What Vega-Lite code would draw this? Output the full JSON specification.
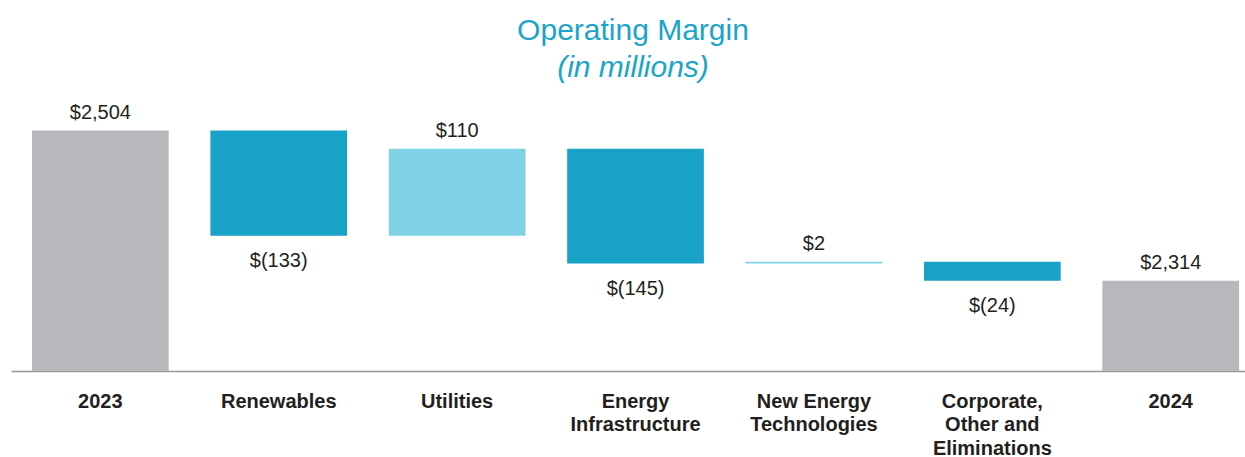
{
  "$schema": "https://vega.github.io/schema/vega-lite/v6.json",
  "autosize": {"type": "none"},
  "padding": {"left": 11, "top": 91, "right": 0, "bottom": 86},
  "width": 1234,
  "height": 280,
  "background": "white",
  "view": {"stroke": null},
  "title": {
    "text": "Operating Margin",
    "subtitle": "(in millions)",
    "font": "Liberation Sans",
    "subtitleFont": "Liberation Sans",
    "fontSize": 30,
    "subtitleFontSize": 30,
    "fontWeight": "normal",
    "subtitleFontStyle": "italic",
    "color": "#1ba4c9",
    "subtitleColor": "#1ba4c9",
    "anchor": "middle",
    "offset": 8,
    "subtitlePadding": 7,
    "dx": 5
  },
  "data": {
    "values": [
      {"category": "2023", "start": 2200, "end": 2504, "label": "$2,504", "kind": "total", "pos": "above"},
      {"category": "Renewables", "start": 2504, "end": 2371, "label": "$(133)", "kind": "decrease", "pos": "below"},
      {"category": "Utilities", "start": 2371, "end": 2481, "label": "$110", "kind": "increase", "pos": "above"},
      {"category": "Energy|Infrastructure", "start": 2481, "end": 2336, "label": "$(145)", "kind": "decrease", "pos": "below"},
      {"category": "New Energy|Technologies", "start": 2336, "end": 2338, "label": "$2", "kind": "increase", "pos": "above"},
      {"category": "Corporate,|Other and|Eliminations", "start": 2338, "end": 2314, "label": "$(24)", "kind": "decrease", "pos": "below"},
      {"category": "2024", "start": 2200, "end": 2314, "label": "$2,314", "kind": "total", "pos": "above"}
    ]
  },
  "encoding": {
    "x": {
      "field": "category",
      "type": "nominal",
      "sort": null,
      "title": null,
      "scale": {"paddingInner": 0.2337, "paddingOuter": 0.0754, "align": 0.78},
      "axis": {
        "labelExpr": "split(datum.label, '|')",
        "labelAngle": 0,
        "labelFont": "Liberation Sans",
        "labelFontSize": 20,
        "labelFontWeight": "bold",
        "labelColor": "#231f20",
        "labelLineHeight": 23.5,
        "labelBaseline": "alphabetic",
        "labelPadding": 36,
        "ticks": false,
        "domainColor": "#999999",
        "domainWidth": 1.5,
        "grid": false
      }
    }
  },
  "layer": [
    {
      "mark": {"type": "bar", "cornerRadius": 0},
      "encoding": {
        "y": {
          "field": "start",
          "type": "quantitative",
          "scale": {"domain": [2200, 2554], "zero": false, "nice": false},
          "axis": null
        },
        "y2": {"field": "end"},
        "color": {
          "field": "kind",
          "type": "nominal",
          "scale": {"domain": ["total", "decrease", "increase"], "range": ["#b7b8bc", "#18a2c7", "#80d1e4"]},
          "legend": null
        }
      }
    },
    {
      "transform": [{"filter": "datum.pos == 'above'"}],
      "mark": {"type": "text", "baseline": "alphabetic", "dy": -12, "font": "Liberation Sans", "fontSize": 20, "color": "#231f20"},
      "encoding": {
        "y": {"field": "end", "type": "quantitative"},
        "text": {"field": "label"}
      }
    },
    {
      "transform": [{"filter": "datum.pos == 'below'"}],
      "mark": {"type": "text", "baseline": "alphabetic", "dy": 31.5, "font": "Liberation Sans", "fontSize": 20, "color": "#231f20"},
      "encoding": {
        "y": {"field": "end", "type": "quantitative"},
        "text": {"field": "label"}
      }
    }
  ]
}
